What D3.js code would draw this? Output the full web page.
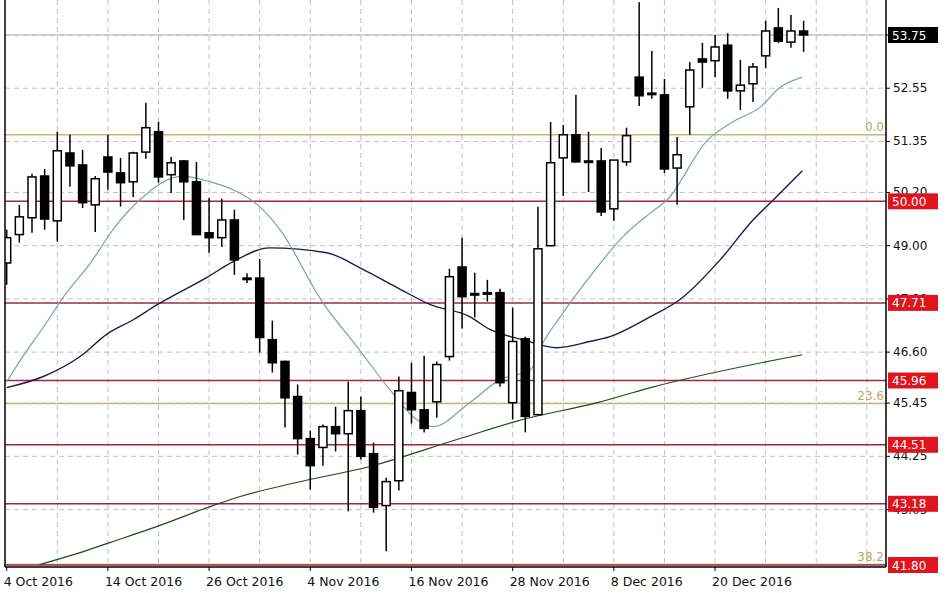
<!DOCTYPE html>
<html><head><meta charset="utf-8">
<script src="https://cdn.jsdelivr.net/npm/d3@7"></script>
<style>body{margin:0;background:#fff}svg{display:block}</style>
</head><body><div id="chart"></div>
<script>
// candles: [open, high, low, close], one per trading day from 4 Oct 2016
const candles = [
  [48.61,49.36,48.12,49.18],[49.25,49.92,49.07,49.65],[49.63,50.62,49.29,50.55],[50.57,50.73,49.36,49.60],
  [49.56,51.57,49.09,51.14],[51.09,51.50,50.33,50.80],[50.82,51.16,49.85,49.97],[49.92,50.57,49.31,50.51],
  [51.00,51.50,50.26,50.66],[50.64,50.98,49.88,50.42],[50.44,51.12,50.10,51.09],[51.11,52.22,50.96,51.66],
  [51.57,51.79,50.42,50.55],[50.60,51.00,50.19,50.87],[50.91,50.93,49.58,50.44],[50.44,50.89,49.25,49.25],
  [49.29,50.08,48.84,49.18],[49.18,50.06,48.97,49.58],[49.58,49.81,48.34,48.68],[48.27,48.38,48.16,48.27],
  [48.27,48.70,46.59,46.93],[46.88,47.31,46.14,46.36],[46.39,46.41,44.90,45.57],[45.60,45.87,44.29,44.65],
  [44.65,44.83,43.50,44.04],[44.45,44.97,44.04,44.92],[44.92,45.37,44.36,44.76],[44.76,45.93,43.01,45.28],
  [45.28,45.60,44.18,44.25],[44.31,44.56,42.98,43.10],[43.14,43.77,42.11,43.68],[43.70,46.05,43.48,45.73],
  [45.69,46.36,44.99,45.30],[45.30,46.52,44.79,44.88],[45.48,46.39,45.12,46.32],[46.50,48.48,46.41,48.30],
  [48.52,49.18,47.13,47.85],[47.92,48.39,47.38,47.92],[47.94,48.23,47.74,47.94],[47.94,48.03,45.82,45.91],
  [45.46,47.60,45.08,46.84],[46.90,46.95,44.79,45.15],[45.19,49.88,45.19,48.93],[49.00,51.79,48.98,50.87],
  [50.98,51.72,50.12,51.50],[51.50,52.40,50.87,50.89],[50.91,51.57,50.21,50.91],[50.91,51.20,49.67,49.76],
  [49.83,50.93,49.56,50.93],[50.89,51.66,50.80,51.48],[52.80,54.49,52.15,52.38],[52.44,53.39,52.31,52.44],
  [52.40,52.76,50.64,50.73],[50.75,51.45,49.92,51.05],[52.13,53.14,51.50,52.96],[53.21,53.57,52.56,53.14],
  [53.17,53.75,52.80,53.48],[53.52,53.79,52.31,52.49],[52.49,53.19,52.06,52.62],[52.65,53.12,52.24,53.03],
  [53.28,54.07,53.00,53.84],[53.91,54.36,53.57,53.61],[53.59,54.20,53.46,53.84],[53.84,54.07,53.37,53.75]
];
// moving averages: [candle index, price]
const maFast = [[0,45.93],[1.5,46.6],[3,47.2],[4.5,47.85],[6.6,48.6],[8.5,49.4],[10.5,50.03],
  [13.9,50.57],[16.1,50.44],[17.9,50.26],[20,49.88],[21.6,49.36],[25,47.71],[27.7,46.72],[30.3,45.75],
  [32.4,45.08],[33.7,44.92],[36.6,45.46],[39,45.98],[41.4,46.2],[42.4,46.81],[44,47.49],[46.1,48.3],
  [48.7,49.2],[50.9,49.74],[52.2,50.03],[55.4,51.38],[57.4,51.79],[59.6,52.13],[61.1,52.56],[62.9,52.8]];
const maMid = [[0,45.8],[2.9,46.05],[5.8,46.5],[7.9,47.0],[10,47.33],[11.9,47.67],[15.8,48.28],[17.9,48.64],
  [20.8,48.95],[25.3,48.84],[28.2,48.46],[30.9,48.05],[33.5,47.67],[36.6,47.4],[38.2,47.11],[40.8,46.88],
  [43.5,46.7],[46.1,46.84],[47.7,46.95],[50.9,47.4],[53.2,47.78],[56.4,48.68],[59,49.58],[60.6,50.03],[62.9,50.69]];
const maSlow = [[2.6,41.81],[5.8,42.08],[8.2,42.31],[11.9,42.67],[16.3,43.14],[18.4,43.34],[22.9,43.66],
  [28.7,44.02],[35.6,44.63],[40.8,45.08],[46.7,45.46],[50.9,45.8],[62.9,46.54]];
const levels = [50.00, 47.71, 45.96, 44.51, 43.18, 41.80];
const fibLevels = [51.50, 45.44, 41.81];
const fibNames = ["0.0", "23.6", "38.2"];
const priceTicks = [53.75, 52.55, 51.35, 50.20, 49.00, 47.80, 46.60, 45.45, 44.25, 43.05];
const dateLabels = ["4 Oct 2016","14 Oct 2016","26 Oct 2016","4 Nov 2016","16 Nov 2016","28 Nov 2016","8 Dec 2016","20 Dec 2016"];
const lastPrice = 53.75;

const W = 948, H = 593, left = 5, right = 886, bottom = 567;
const svg = d3.select("#chart").append("svg").attr("width", W).attr("height", H)
  .style("font-family", "Tahoma, 'DejaVu Sans', sans-serif");

const x = d3.scaleLinear().domain([0, 63]).range([6.7, 803.6]);
const y = d3.scaleLinear().domain([41.80, 53.75]).range([565, 35]);

svg.append("clipPath").attr("id", "c").append("rect")
  .attr("x", left).attr("y", 0).attr("width", right - left).attr("height", bottom);
const plot = svg.append("g").attr("clip-path", "url(#c)");

// grid
plot.selectAll(".hg").data(priceTicks).enter().append("line")
  .attr("x1", left).attr("x2", right).attr("y1", d => y(d)).attr("y2", d => y(d))
  .attr("stroke", "#c0c0c0").attr("stroke-dasharray", "5,4");
plot.selectAll(".vg").data(d3.range(4, 80, 4)).enter().append("line")
  .attr("x1", d => x(d)).attr("x2", d => x(d)).attr("y1", 0).attr("y2", bottom)
  .attr("stroke", "#c0c0c0").attr("stroke-dasharray", "5,4");

// current price line
plot.append("line").attr("x1", left).attr("x2", right).attr("y1", y(lastPrice)).attr("y2", y(lastPrice))
  .attr("stroke", "#b0b0b0");

// fib lines
plot.selectAll(".fib").data(fibLevels).enter().append("line")
  .attr("x1", left).attr("x2", right).attr("y1", d => y(d)).attr("y2", d => y(d))
  .attr("stroke", "#c8b870").attr("stroke-width", 1.5);
plot.selectAll(".fibt").data(fibLevels).enter().append("text")
  .attr("x", 884).attr("y", d => y(d) - 4).attr("text-anchor", "end")
  .attr("fill", "#b8a860").style("font-size", "12px").text((d, i) => fibNames[i]);

// support / resistance lines
plot.selectAll(".lv").data(levels).enter().append("line")
  .attr("x1", left).attr("x2", right).attr("y1", d => y(d)).attr("y2", d => y(d))
  .attr("stroke", "#a0283c").attr("stroke-width", 1.5);

// moving averages
const line = d3.line().x(d => x(d[0])).y(d => y(d[1])).curve(d3.curveMonotoneX);
plot.append("path").attr("d", line(maSlow)).attr("fill", "none").attr("stroke", "#1e4a1e").attr("stroke-width", 1.2);
plot.append("path").attr("d", line(maMid)).attr("fill", "none").attr("stroke", "#1a1a50").attr("stroke-width", 1.4);
plot.append("path").attr("d", line(maFast)).attr("fill", "none").attr("stroke", "#6fa8a8").attr("stroke-width", 1.2);

// candles
const cw = 8;
const cg = plot.selectAll(".c").data(candles).enter().append("g");
cg.append("line").attr("x1", (d, i) => x(i)).attr("x2", (d, i) => x(i))
  .attr("y1", d => y(d[1])).attr("y2", d => y(d[2])).attr("stroke", "#000").attr("stroke-width", 1.5);
cg.append("rect")
  .attr("x", (d, i) => x(i) - cw / 2)
  .attr("y", d => y(Math.max(d[0], d[3])))
  .attr("width", cw)
  .attr("height", d => Math.max(1.5, Math.abs(y(d[0]) - y(d[3]))))
  .attr("fill", d => d[3] > d[0] ? "#fff" : "#000")
  .attr("stroke", "#000").attr("stroke-width", 1.5);

// axes frame
svg.append("line").attr("x1", left).attr("x2", left).attr("y1", 0).attr("y2", bottom).attr("stroke", "#000").attr("stroke-width", 1.5);
svg.append("line").attr("x1", right).attr("x2", right).attr("y1", 0).attr("y2", bottom).attr("stroke", "#000").attr("stroke-width", 1.5);
svg.append("line").attr("x1", left).attr("x2", right).attr("y1", bottom).attr("y2", bottom).attr("stroke", "#000").attr("stroke-width", 1.5);

// price ticks
const yt = svg.append("g");
yt.selectAll("line").data(priceTicks).enter().append("line")
  .attr("x1", right).attr("x2", right + 4).attr("y1", d => y(d)).attr("y2", d => y(d)).attr("stroke", "#000");
yt.selectAll("text").data(priceTicks).enter().append("text")
  .attr("x", 893).attr("y", d => y(d) + 4).style("font-size", "12px").attr("fill", "#111")
  .text(d => d.toFixed(2));

// level labels
function tag(v, bg) {
  svg.append("rect").attr("x", 888).attr("y", y(v) - 8).attr("width", 50).attr("height", 16).attr("fill", bg);
  svg.append("text").attr("x", 892).attr("y", y(v) + 4.5).attr("fill", "#fff")
    .style("font-size", "12px").text(v.toFixed(2));
}
levels.forEach(v => tag(v, "#e0141e"));
tag(lastPrice, "#000");

// date labels
const xt = svg.append("g");
xt.selectAll("line").data(dateLabels).enter().append("line")
  .attr("x1", (d, i) => x(i * 8)).attr("x2", (d, i) => x(i * 8)).attr("y1", bottom).attr("y2", bottom + 4).attr("stroke", "#000");
xt.selectAll("text").data(dateLabels).enter().append("text")
  .attr("x", (d, i) => x(i * 8) - 3).attr("y", 586).style("font-size", "12.5px").attr("fill", "#111")
  .text(d => d);
</script></body></html>
